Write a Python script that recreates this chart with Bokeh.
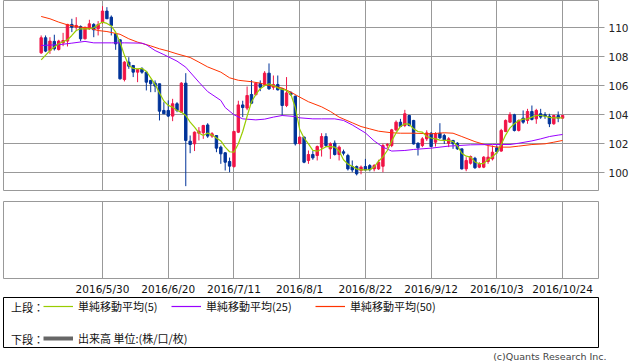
import pandas as pd
from bokeh.plotting import figure
from bokeh.models import (ColumnDataSource, Range1d, FixedTicker, Legend, LegendItem,
                          Label, Title, Grid)
from bokeh.layouts import column
from bokeh.embed import file_html
from bokeh.resources import INLINE
from bokeh.core.properties import value

# ---------------- data ----------------
start_date = "2016-05-10"
end_date = "2016-10-24"
dates = pd.bdate_range(start_date, end_date)

opens = [108.27, 109.31, 108.43, 109.06, 108.50, 108.96, 109.08, 110.23, 110.04, 110.09,
         109.24, 109.93, 110.23, 109.93, 110.39, 111.15, 110.73, 109.58, 109.17, 106.43,
         107.63, 107.40, 106.94, 107.17, 106.94, 106.37, 106.18, 106.14, 104.30, 104.30,
         103.91, 104.76, 104.18, 106.18, 102.18, 102.00, 102.73, 102.76, 103.30, 102.53,
         102.57, 101.77, 101.38, 100.78, 100.43, 102.80, 104.68, 104.46, 105.40, 105.39,
         106.16, 106.08, 106.87, 105.90, 106.09, 105.79, 104.64, 105.50, 105.28, 102.02,
         102.46, 100.85, 101.26, 101.19, 101.77, 102.50, 101.65, 102.04, 101.26, 101.45,
         101.19, 100.43, 100.43, 100.16, 100.43, 100.50, 100.27, 100.27, 100.45, 101.90,
         101.88, 102.96, 103.49, 103.26, 103.95, 103.61, 102.04, 101.88, 102.34, 102.73,
         102.11, 102.73, 102.57, 102.04, 102.23, 102.04, 101.65, 100.27, 100.66, 101.00,
         100.39, 100.39, 100.78, 100.96, 101.72, 101.50, 102.85, 103.49, 104.00, 102.92,
         103.77, 103.61, 104.23, 103.72, 104.07, 104.00, 103.91, 103.38, 103.95, 103.77]
highs = [109.47, 109.47, 109.35, 109.52, 109.17, 109.65, 110.27, 110.62, 110.73, 110.16,
         110.04, 110.55, 110.32, 110.46, 111.49, 111.42, 110.85, 109.58, 109.17, 107.70,
         107.97, 107.40, 107.17, 107.28, 106.94, 106.41, 106.37, 106.14, 104.87, 104.99,
         105.10, 104.87, 106.25, 106.87, 102.57, 102.85, 103.15, 103.31, 103.42, 102.80,
         102.57, 101.88, 101.42, 101.05, 102.90, 104.97, 104.97, 105.95, 106.39, 106.25,
         106.37, 107.01, 107.54, 106.71, 106.71, 105.79, 106.60, 105.62, 105.33, 102.50,
         102.50, 101.54, 101.50, 101.88, 102.73, 102.73, 102.10, 102.23, 101.88, 101.60,
         101.31, 100.85, 100.50, 100.50, 100.96, 100.60, 100.60, 100.90, 102.00, 102.05,
         103.03, 103.61, 103.72, 104.34, 104.00, 103.65, 102.10, 102.46, 102.93, 102.80,
         102.80, 103.42, 102.69, 102.46, 102.27, 102.11, 101.65, 101.08, 101.19, 101.10,
         100.73, 101.15, 101.88, 101.88, 101.88, 103.03, 103.68, 104.18, 104.07, 103.68,
         104.30, 104.41, 104.64, 104.41, 104.41, 104.18, 104.07, 104.00, 104.23, 104.00]
lows = [108.20, 108.32, 108.20, 108.43, 108.43, 108.73, 108.71, 109.70, 109.86, 109.08,
        109.19, 109.86, 109.35, 109.47, 110.27, 110.62, 109.47, 108.48, 106.43, 106.30,
        107.17, 106.60, 106.25, 106.83, 105.68, 105.56, 105.56, 103.61, 104.07, 103.84,
        103.56, 104.18, 104.13, 99.08, 101.35, 101.50, 102.23, 102.34, 102.41, 102.41,
        101.42, 100.62, 100.16, 100.04, 100.36, 102.74, 103.84, 104.32, 104.74, 105.33,
        105.63, 106.02, 105.72, 105.72, 105.68, 103.95, 104.53, 105.30, 101.88, 101.95,
        100.66, 100.62, 100.90, 100.85, 101.12, 101.77, 100.96, 101.19, 100.85, 101.20,
        100.16, 100.04, 99.82, 99.90, 100.16, 100.10, 100.10, 100.20, 100.04, 101.70,
        101.77, 102.87, 103.15, 103.15, 103.20, 101.95, 101.19, 101.77, 102.20, 101.77,
        101.81, 102.34, 101.99, 101.77, 101.65, 101.58, 100.23, 100.11, 100.57, 100.27,
        100.32, 100.32, 100.62, 100.85, 101.31, 101.45, 102.80, 103.45, 102.85, 102.85,
        103.38, 103.38, 103.61, 103.38, 103.72, 103.72, 103.15, 103.31, 103.49, 103.72]
closes = [109.31, 108.39, 109.08, 108.55, 109.08, 109.12, 110.23, 110.04, 110.16, 109.24,
          110.04, 110.27, 109.86, 110.23, 111.15, 110.62, 110.16, 108.89, 106.48, 107.63,
          107.35, 106.94, 107.12, 106.94, 106.25, 106.14, 105.98, 104.25, 104.07, 103.91,
          104.76, 104.30, 106.18, 102.23, 101.95, 102.80, 102.87, 103.26, 102.53, 102.69,
          101.70, 101.31, 100.73, 100.46, 102.85, 104.68, 104.50, 105.33, 104.80, 106.18,
          105.90, 106.87, 105.79, 106.09, 105.72, 104.64, 105.51, 105.40, 102.00, 102.46,
          100.73, 101.26, 101.03, 101.81, 102.50, 101.88, 102.00, 101.26, 101.77, 101.35,
          100.27, 100.20, 99.93, 100.39, 100.20, 100.22, 100.50, 100.73, 101.88, 101.95,
          102.96, 103.49, 103.19, 104.07, 103.26, 101.99, 101.72, 102.34, 102.75, 101.81,
          102.69, 102.41, 102.27, 102.34, 102.00, 101.65, 100.27, 100.85, 101.12, 100.35,
          100.60, 101.08, 101.08, 101.42, 101.45, 102.92, 103.61, 104.00, 102.92, 103.61,
          103.49, 104.23, 103.68, 104.30, 103.84, 103.90, 103.38, 103.95, 103.77, 103.95]

# moving averages (trading-day position, value)
ma5_pos = [0, 2, 4, 6, 7, 8, 9, 11, 12, 13, 14, 15, 16, 17, 18, 19, 20, 21, 22, 23, 24, 25,
           26, 27, 28, 29, 30, 31, 32, 33, 34, 35, 36, 37, 38, 39, 40, 41, 42, 43, 44, 45,
           46, 47, 48, 49, 50, 51, 52, 53, 54, 55, 56, 57, 58, 59, 60, 61, 62, 63, 64, 65,
           66, 67, 68, 69, 70, 71, 72, 73, 74, 75, 76, 77, 78, 79, 80, 81, 82, 83, 84, 85,
           86, 87, 88, 89, 90, 91, 92, 93, 94, 95, 96, 97, 98, 99, 100, 101, 102, 103, 104,
           105, 106, 107, 108, 109, 110, 111, 112, 113, 114, 115, 116, 117, 118, 119]
ma5_val = [107.79, 108.43, 108.90, 109.17, 109.47, 109.81, 109.93, 109.93, 110.00, 110.20,
           110.39, 110.30, 110.12, 109.70, 109.00, 108.10, 107.40, 107.20, 107.17, 107.20,
           107.00, 106.55, 106.10, 105.50, 104.95, 104.65, 104.53, 104.30, 104.18, 103.95,
           103.50, 103.15, 102.75, 102.57, 102.75, 102.60, 102.40, 102.20, 101.77, 101.45,
           101.42, 102.00, 102.85, 103.90, 104.90, 105.40, 105.80, 106.00, 106.14, 106.02,
           105.86, 105.75, 105.68, 105.40, 104.50, 103.00, 102.40, 102.00, 101.55, 101.49,
           101.62, 101.80, 101.81, 101.77, 101.50, 100.90, 100.60, 100.45, 100.27, 100.20,
           100.20, 100.22, 100.40, 100.80, 101.10, 101.54, 102.20, 102.75, 103.20, 103.38,
           103.35, 103.03, 102.85, 102.80, 102.50, 102.40, 102.34, 102.25, 102.23, 102.23,
           102.15, 101.85, 101.35, 101.15, 101.08, 100.75, 100.62, 100.65, 100.90, 101.10,
           101.40, 101.95, 102.60, 103.10, 103.38, 103.60, 103.70, 103.72, 103.84, 103.95,
           103.95, 103.90, 103.82, 103.79, 103.79, 103.79]
ma25_pos = [0, 4, 7, 10, 12, 16, 19, 23, 24, 26, 28, 31, 33, 36, 38, 41, 42, 44, 46, 49, 51,
            53, 55, 58, 59, 62, 64, 67, 69, 71, 74, 76, 78, 80, 83, 85, 89, 93, 98, 103, 107,
            109, 112, 114, 116, 118, 119]
ma25_val = [108.78, 108.83, 108.94, 109.06, 108.96, 108.96, 108.96, 108.94, 108.83, 108.43,
            108.15, 107.70, 107.28, 106.25, 105.60, 104.99, 104.50, 104.00, 103.72, 103.65,
            103.70, 103.84, 103.95, 103.88, 103.79, 103.72, 103.72, 103.72, 103.61, 103.30,
            102.75, 102.20, 101.77, 101.50, 101.54, 101.61, 101.70, 101.84, 101.93, 101.95,
            101.95, 102.04, 102.20, 102.34, 102.50, 102.60, 102.64]
ma50_pos = [0, 2, 4, 6, 9, 11, 13, 15, 18, 20, 22, 25, 27, 29, 31, 34, 36, 38, 41, 43, 45,
            48, 50, 52, 55, 57, 59, 61, 64, 66, 68, 71, 73, 75, 77, 80, 82, 85, 89, 92, 94,
            96, 99, 102, 104, 107, 109, 112, 115, 117, 119]
ma50_val = [110.78, 110.62, 110.39, 110.20, 110.04, 109.97, 109.81, 109.74, 109.55, 109.24,
            109.01, 108.75, 108.55, 108.39, 108.20, 107.95, 107.63, 107.30, 106.94, 106.55,
            106.38, 106.28, 106.18, 106.02, 105.85, 105.56, 105.22, 104.90, 104.55, 104.23,
            103.84, 103.45, 103.19, 103.03, 102.87, 102.76, 102.73, 102.73, 102.69, 102.76,
            102.73, 102.50, 102.15, 101.88, 101.77, 101.77, 101.84, 101.95, 102.00, 102.11,
            102.23]

tick_dates = ["2016-05-30", "2016-06-20", "2016-07-11", "2016-08-01",
              "2016-08-22", "2016-09-12", "2016-10-03", "2016-10-24"]
tick_labels = ["2016/5/30", "2016/6/20", "2016/7/11", "2016/8/1",
               "2016/8/22", "2016/9/12", "2016/10/3", "2016/10/24"]
price_ticks = [100, 102, 104, 106, 108, 110]

legend_top_prefix = "上段："
legend_bottom_prefix = "下段："
legend_labels = ["単純移動平均(5)", "単純移動平均(25)", "単純移動平均(50)"]
volume_label = "出来高 単位:(株/口/枚)"
copyright_text = "(c)Quants Research Inc."

# ---------------- styles ----------------
UP = "#f01446"
DOWN = "#003399"
MA5_C = "#99cc00"
MA25_C = "#9900ff"
MA50_C = "#ff3300"
VOL_C = "#666666"
GRID_C = "#999999"
JP_FONT = "Noto Sans CJK JP"
NUM_FONT = "DejaVu Sans"

pos = list(range(len(dates)))
date_index = {d.strftime("%Y-%m-%d"): i for i, d in enumerate(dates)}
tick_pos = [date_index[d] for d in tick_dates]

src = ColumnDataSource(dict(
    x=pos, o=opens, h=highs, l=lows, c=closes,
    top=[max(a, b) for a, b in zip(opens, closes)],
    bottom=[min(a, b) for a, b in zip(opens, closes)],
    color=[UP if c >= o else DOWN for o, c in zip(opens, closes)],
))

xr = Range1d(-8.6, 127.2)

# ---------------- price panel ----------------
p = figure(width=638, height=191, x_range=xr, y_range=Range1d(98.78, 111.88),
           output_backend="svg", toolbar_location=None,
           x_axis_location=None, y_axis_location="right",
           min_border_left=3, min_border_right=40, min_border_top=0, min_border_bottom=1,
           outline_line_color=GRID_C, background_fill_color="white",
           border_fill_color="white")
p.xgrid.visible = False
p.ygrid.visible = False
p.add_layout(Grid(dimension=0, ticker=FixedTicker(ticks=tick_pos),
                  grid_line_color=GRID_C, grid_line_width=1))
p.add_layout(Grid(dimension=1, ticker=FixedTicker(ticks=price_ticks),
                  grid_line_color=GRID_C, grid_line_width=1))
ax = p.yaxis[0]
ax.ticker = FixedTicker(ticks=price_ticks)
ax.axis_line_color = None
ax.major_tick_line_color = GRID_C
ax.major_tick_out = 6
ax.major_tick_in = 0
ax.minor_tick_line_color = None
ax.major_label_text_font = NUM_FONT
ax.major_label_text_font_size = "10.5px"
ax.major_label_text_color = "#222222"
ax.major_label_standoff = 4

p.segment(x0="x", y0="l", x1="x", y1="h", line_color="color", line_width=1, source=src)
p.vbar(x="x", width=0.55, top="top", bottom="bottom", fill_color="color",
       line_color="color", line_width=1, source=src)
p.line(ma50_pos, ma50_val, line_color=MA50_C, line_width=1)
p.line(ma25_pos, ma25_val, line_color=MA25_C, line_width=1)
p.line(ma5_pos, ma5_val, line_color=MA5_C, line_width=1.2)

# ---------------- volume panel (empty) ----------------
v = figure(width=638, height=106, x_range=xr, y_range=Range1d(0, 1),
           output_backend="svg", toolbar_location=None, y_axis_location=None,
           min_border_left=3, min_border_right=40, min_border_top=10, min_border_bottom=17,
           outline_line_color=GRID_C, background_fill_color="white",
           border_fill_color="white")
v.xgrid.visible = False
v.ygrid.visible = False
v.add_layout(Grid(dimension=0, ticker=FixedTicker(ticks=tick_pos),
                  grid_line_color=GRID_C, grid_line_width=1))
xa = v.xaxis[0]
xa.ticker = FixedTicker(ticks=tick_pos)
xa.major_label_overrides = {tp: lb for tp, lb in zip(tick_pos, tick_labels)}
xa.axis_line_color = None
xa.major_tick_line_color = None
xa.minor_tick_line_color = None
xa.major_tick_out = 0
xa.major_tick_in = 0
xa.major_label_text_font = NUM_FONT
xa.major_label_text_font_size = "10.5px"
xa.major_label_text_color = "#111111"
xa.major_label_standoff = 4

# ---------------- legend box ----------------
lf = figure(width=638, height=65, x_range=Range1d(0, 632), y_range=Range1d(0, 50),
            output_backend="svg", toolbar_location=None,
            x_axis_location=None, y_axis_location=None,
            min_border_left=3, min_border_right=3, min_border_top=0, min_border_bottom=15,
            outline_line_color="black", outline_line_width=1,
            background_fill_color="white", border_fill_color="white")
lf.xgrid.visible = False
lf.ygrid.visible = False

for txt, yy in [(legend_top_prefix, 41), (legend_bottom_prefix, 9)]:
    lf.add_layout(Label(x=8, y=yy, text=txt, text_baseline="middle",
                        text_font=JP_FONT, text_font_size="11px", text_color="#111111"))

entries = [(legend_labels[0], MA5_C, 1.2, 40, 33),
           (legend_labels[1], MA25_C, 1.2, 168, 33),
           (legend_labels[2], MA50_C, 1.2, 312, 33),
           (volume_label, VOL_C, 4, 40, 1)]
for lab, col, lw, lx, ly in entries:
    r = lf.line(x=[float("nan")], y=[float("nan")], line_color=col, line_width=lw)
    lg = Legend(items=[LegendItem(label=value(lab), renderers=[r])],
                location=(lx, ly), orientation="horizontal",
                glyph_width=30, glyph_height=16, label_height=16, label_standoff=5,
                padding=0, margin=0, spacing=0, border_line_color=None,
                background_fill_alpha=0, label_text_font=JP_FONT,
                label_text_font_size="11px", label_text_color="#111111")
    lf.add_layout(lg)

lf.add_layout(Title(text=copyright_text, align="right", text_font=NUM_FONT,
                    text_font_size="9.5px", text_font_style="normal",
                    text_color="#444444", standoff=2, offset=-8), "below")

layout = column(p, v, lf, spacing=0)
open("out.html", "w").write(file_html(layout, INLINE, "chart"))
